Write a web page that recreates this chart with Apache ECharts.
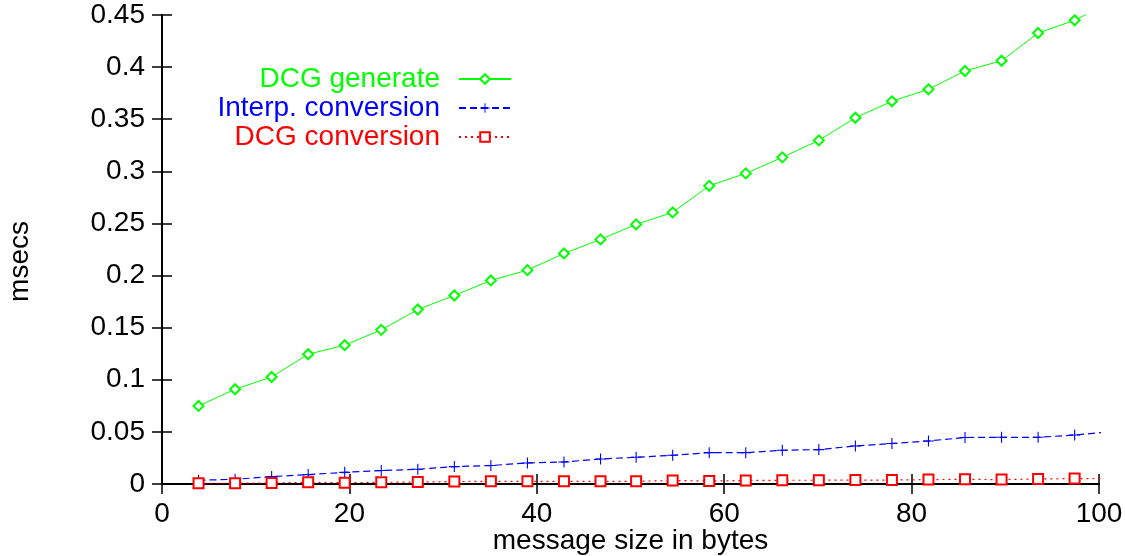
<!DOCTYPE html>
<html>
<head>
<meta charset="utf-8">
<script src="https://cdn.jsdelivr.net/npm/echarts@6/dist/echarts.min.js"></script>
<style>html,body{margin:0;padding:0;background:#fff;}#c{width:1125px;height:556px;}</style>
</head>
<body>
<div id="c"></div>
<script>
// message sizes (bytes) at which measurements were taken
const sizes = [3.9, 7.8, 11.7, 15.6, 19.5, 23.4, 27.3, 31.2, 35.1, 39.0, 42.9, 46.8, 50.6,
  54.5, 58.4, 62.3, 66.2, 70.1, 74.0, 77.9, 81.8, 85.7, 89.6, 93.5, 97.4, 101.3];
const dcgGenerate = [0.0749, 0.0909, 0.1027, 0.1245, 0.1332, 0.1479, 0.1674, 0.1809, 0.1953, 0.2052,
  0.2212, 0.2347, 0.2491, 0.2606, 0.2861, 0.2980, 0.3134, 0.3297, 0.3514, 0.3672,
  0.3787, 0.3963, 0.4061, 0.4327, 0.4449, 0.4630];
const interpConversion = [0.0036, 0.0045, 0.0071, 0.0090, 0.0112, 0.0129, 0.0141, 0.0167, 0.0177, 0.0202,
  0.0211, 0.0240, 0.0256, 0.0276, 0.0301, 0.0301, 0.0324, 0.0330, 0.0365, 0.0389,
  0.0413, 0.0446, 0.0448, 0.0448, 0.0470, 0.0502];
const dcgConversion = [0.0007, 0.0007, 0.0010, 0.0016, 0.0013, 0.0016, 0.0019, 0.0023, 0.0026, 0.0026,
  0.0026, 0.0026, 0.0026, 0.0033, 0.0029, 0.0033, 0.0036, 0.0036, 0.0038, 0.0038,
  0.0042, 0.0045, 0.0042, 0.0048, 0.0052, 0.0053];
const seriesNames = ['DCG generate', 'Interp. conversion', 'DCG conversion'];
const xAxisTitle = 'message size in bytes';
const yAxisTitle = 'msecs';

const FONT = 'Liberation Sans, Arial, Helvetica, sans-serif';
const FS = 28;
const green = '#00ff00', blue = '#0000ff', red = '#ff0000';
const plus = 'path://M4.5,0H5.5V4.5H10V5.5H5.5V10H4.5V5.5H0V4.5H4.5Z';

function pts(ys) { return sizes.map((x, i) => [x, ys[i]]); }

const axisLine = { show: true, lineStyle: { color: '#000', width: 2 } };
const tick = { show: true, inside: true, length: 10, lineStyle: { color: '#000', width: 1.5 } };

const chart = echarts.init(document.getElementById('c'), null, { renderer: 'canvas' });
chart.setOption({
  animation: false,
  backgroundColor: '#fff',
  grid: { left: 162, right: 26, top: 15, bottom: 72, containLabel: false, outerBoundsMode: 'none' },
  textStyle: { fontFamily: FONT },
  legend: {
    orient: 'vertical',
    align: 'right',
    right: 613,
    top: 65,
    padding: 0,
    itemWidth: 52,
    itemHeight: 12,
    itemGap: 1,
    textStyle: { fontFamily: FONT, fontSize: FS, padding: [0, 14, 0, 0] },
    data: [
      { name: seriesNames[0], textStyle: { color: green } },
      { name: seriesNames[1], textStyle: { color: blue } },
      { name: seriesNames[2], textStyle: { color: red } }
    ]
  },
  xAxis: [{
    type: 'value', min: 0, max: 100, interval: 20,
    name: xAxisTitle, nameLocation: 'middle', nameGap: 43, nameMoveOverlap: false,
    nameTextStyle: { fontFamily: FONT, fontSize: FS, color: '#000' },
    axisLine: axisLine, axisTick: tick, splitLine: { show: false },
    axisLabel: { color: '#000', fontFamily: FONT, fontSize: FS, margin: 16 }
  }, {
    type: 'value', min: 0, max: 100, interval: 20, position: 'top',
    axisLine: axisLine, axisTick: tick, splitLine: { show: false },
    axisLabel: { show: false }
  }],
  yAxis: [{
    type: 'value', min: 0, max: 0.45, interval: 0.05,
    name: yAxisTitle, nameLocation: 'middle', nameGap: 128, nameMoveOverlap: false,
    nameTextStyle: { fontFamily: FONT, fontSize: FS, color: '#000', padding: [0, 24, 0, 0] },
    axisLine: axisLine, axisTick: tick, splitLine: { show: false },
    axisLabel: { color: '#000', fontFamily: FONT, fontSize: FS, margin: 17 }
  }, {
    type: 'value', min: 0, max: 0.45, interval: 0.05, position: 'right',
    axisLine: axisLine, axisTick: tick, splitLine: { show: false },
    axisLabel: { show: false }
  }],
  series: [{
    name: seriesNames[0], type: 'line', data: pts(dcgGenerate), clip: true,
    symbol: 'emptyDiamond', symbolSize: 10, showAllSymbol: true,
    itemStyle: { color: green, borderWidth: 1 },
    lineStyle: { color: green, width: 1 }
  }, {
    name: seriesNames[1], type: 'line', data: pts(interpConversion), clip: true,
    symbol: plus, symbolSize: 11, showAllSymbol: true,
    itemStyle: { color: blue },
    lineStyle: { color: blue, width: 1.2, type: [7, 4] }
  }, {
    name: seriesNames[2], type: 'line', data: pts(dcgConversion), clip: true,
    symbol: 'emptyRect', symbolSize: 10, showAllSymbol: true,
    itemStyle: { color: red, borderWidth: 1 },
    lineStyle: { color: red, width: 1.2, type: [2, 4] }
  }]
});
</script>
</body>
</html>
